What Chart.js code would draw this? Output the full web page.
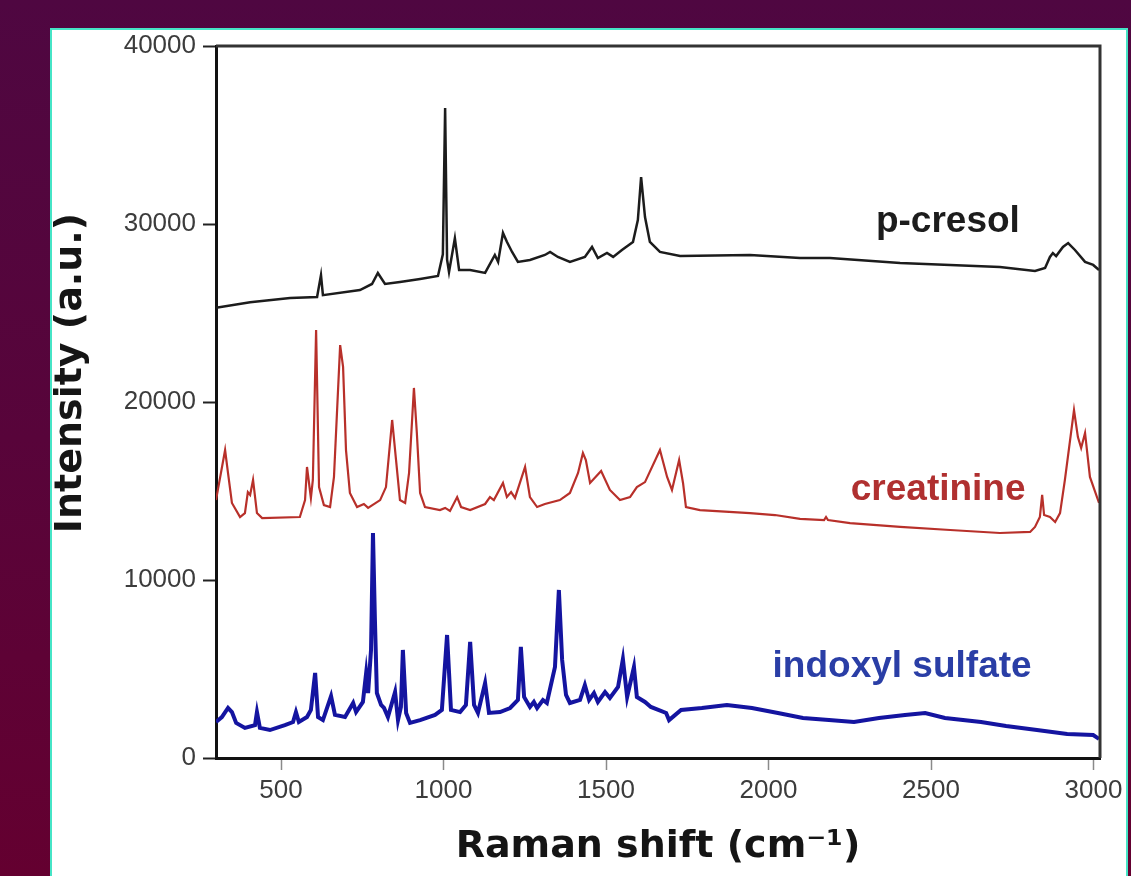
<!DOCTYPE html>
<html>
<head>
<meta charset="utf-8">
<script src="https://cdn.jsdelivr.net/npm/chart.js@4/dist/chart.umd.min.js"></script>
<style>
  html, body { margin: 0; padding: 0; }
  body { width: 1131px; height: 876px; overflow: hidden; position: relative;
    background: linear-gradient(180deg, #4f0741 0%, #58043a 50%, #640030 100%); }
  #panel { position: absolute; left: 50px; top: 28px; width: 1074px; height: 860px;
    background: #fff; border: 2px solid #46e4c6; }
  #chart1 { display: block; }
</style>
</head>
<body>
<div id="panel"><canvas id="chart1" width="1074" height="846"></canvas></div>
<script>
//Axis ticks
const xTicks = [500, 1000, 1500, 2000, 2500, 3000];
const yTicks = [0, 10000, 20000, 30000, 40000];

//p-cresol spectrum (black)
const pcresolX = [300, 405, 528, 611, 623, 629, 743, 780, 798, 820, 866, 928, 983, 998, 1005, 1011, 1017, 1035, 1048, 1082,
    1128, 1158, 1168, 1183, 1195, 1211, 1229, 1266, 1312, 1328, 1352, 1389, 1435, 1457, 1475, 1503, 1522, 1549, 1583, 1598,
    1608, 1620, 1635, 1666, 1728, 1943, 2097, 2189, 2405, 2559, 2712, 2820, 2851, 2866, 2875, 2885, 2906, 2922, 2943, 2974,
    2999, 3017];
const pcresolY = [25300, 25600, 25840, 25900, 27130, 26000, 26290, 26630, 27250, 26630, 26740, 26910, 27080, 28300, 36520, 28000, 27300, 29200, 27420, 27420,
    27250, 28260, 27870, 29500, 29000, 28430, 27870, 27980, 28260, 28430, 28150, 27870, 28150, 28710, 28090, 28370, 28150, 28540, 28990, 30220,
    32640, 30390, 28990, 28430, 28200, 28260, 28090, 28090, 27810, 27700, 27580, 27360, 27530, 28150, 28370, 28200, 28710, 28930, 28540, 27870,
    27700, 27420];

//creatinine spectrum (red)
const creatinineX = [300, 328, 337, 349, 374, 389, 398, 405, 414, 426, 442, 558, 574, 580, 592, 598, 608, 617, 632, 651,
    663, 682, 691, 700, 712, 734, 755, 768, 805, 823, 842, 854, 866, 882, 894, 909, 918, 928, 943, 989,
    1005, 1020, 1042, 1054, 1082, 1128, 1143, 1155, 1183, 1195, 1208, 1220, 1251, 1266, 1288, 1312, 1358, 1389, 1414, 1429,
    1438, 1451, 1485, 1512, 1543, 1574, 1595, 1620, 1666, 1688, 1703, 1725, 1737, 1746, 1789, 1943, 2020, 2097, 2171, 2177,
    2183, 2251, 2405, 2559, 2712, 2805, 2820, 2835, 2842, 2848, 2866, 2882, 2897, 2912, 2940, 2952, 2962, 2974, 2989, 3017];
const creatinineY = [14490, 17300, 16010, 14330, 13540, 13760, 14940, 14780, 15620, 13760, 13480, 13540, 14490, 16350, 14610, 15620, 24050, 15220, 14210, 14100,
    15790, 23200, 21970, 17300, 14890, 14100, 14270, 14050, 14490, 15220, 18990, 16740, 14490, 14330, 16010, 20790, 18260, 14890, 14100, 13930,
    14050, 13880, 14660, 14100, 13930, 14270, 14660, 14490, 15450, 14660, 14940, 14610, 16350, 14660, 14100, 14270, 14490, 14890, 16010, 17130,
    16740, 15450, 16120, 15060, 14490, 14660, 15220, 15500, 17300, 15790, 15060, 16740, 15450, 14100, 13930, 13760, 13650, 13430, 13370, 13540,
    13370, 13200, 12980, 12810, 12640, 12700, 12980, 13540, 14780, 13650, 13540, 13260, 13760, 15620, 19550, 18030, 17420, 18260, 15790, 14330];

//indoxyl sulfate spectrum (blue)
const indoxylX = [300, 318, 337, 349, 362, 389, 420, 426, 435, 466, 512, 537, 546, 555, 580, 592, 605, 614, 629, 654,
    666, 697, 722, 731, 752, 762, 768, 777, 783, 789, 795, 808, 817, 829, 851, 860, 869, 875, 885, 897,
    928, 974, 995, 1011, 1023, 1051, 1069, 1082, 1094, 1106, 1128, 1140, 1174, 1205, 1229, 1238, 1248, 1266, 1278, 1288,
    1306, 1318, 1343, 1355, 1365, 1377, 1389, 1420, 1435, 1448, 1463, 1475, 1497, 1512, 1537, 1552, 1565, 1586, 1595, 1620,
    1638, 1685, 1694, 1731, 1795, 1872, 1949, 2029, 2106, 2186, 2263, 2340, 2420, 2482, 2543, 2654, 2731, 2826, 2919, 2999,
    3017];
const indoxylY = [2020, 2300, 2810, 2580, 1970, 1690, 1850, 2580, 1690, 1570, 1850, 2020, 2580, 2020, 2300, 2700, 4780, 2300, 2130, 3480,
    2420, 2300, 3090, 2580, 3150, 4780, 3650, 6070, 12640, 7750, 3650, 2980, 2810, 2300, 3710, 2130, 2870, 6070, 2530, 1970,
    2130, 2420, 2700, 6910, 2700, 2580, 2980, 6520, 2980, 2530, 4210, 2530, 2580, 2810, 3260, 6240, 3430, 2870, 3150, 2810,
    3260, 3090, 5110, 9440, 5510, 3540, 3090, 3260, 4100, 3260, 3650, 3150, 3710, 3370, 3990, 5560, 3430, 5110, 3430, 3150,
    2870, 2530, 2130, 2700, 2810, 2980, 2810, 2530, 2250, 2130, 2020, 2250, 2420, 2530, 2250, 2020, 1800, 1570, 1350, 1290,
    1070];

//Series names and where their labels sit (data units)
const seriesNames = ['p-cresol', 'creatinine', 'indoxyl sulfate'];
const seriesColors = ['#1c1c1c', '#b8302a', '#1414a0'];
const labelColors = ['#1c1c1c', '#b03030', '#2a3ea6'];
const labelX = [2552, 2522, 2411];
const labelY = [29550, 14490, 4550];

const xTitle = 'Raman shift (cm\u207B\u00B9)';
const yTitle = 'Intensity (a.u.)';

//Function for pairing x and y arrays into point objects
function toPoints(xs, ys) {
    var points = [];
    for (var i = 0; i < xs.length; i++) {
        points.push({x: xs[i], y: ys[i]});
    }
    return points;
}

//Plugin for the series labels, the top/right frame and the y title
const extras = {
    id: 'extras',
    afterDraw(chart) {
        const ctx = chart.ctx;
        const a = chart.chartArea;
        const sx = chart.scales.x, sy = chart.scales.y;
        ctx.save();
        ctx.strokeStyle = '#333';
        ctx.lineWidth = 3;
        ctx.beginPath();
        ctx.moveTo(a.left, a.top);
        ctx.lineTo(a.right, a.top);
        ctx.lineTo(a.right, a.bottom);
        ctx.stroke();

        ctx.font = 'bold 37px "Liberation Sans", Arial, sans-serif';
        ctx.textAlign = 'center';
        ctx.textBaseline = 'alphabetic';
        for (var i = 0; i < seriesNames.length; i++) {
            ctx.fillStyle = labelColors[i];
            ctx.fillText(seriesNames[i], sx.getPixelForValue(labelX[i]), sy.getPixelForValue(labelY[i]));
        }

        ctx.translate(19, 343);
        ctx.rotate(-Math.PI / 2);
        ctx.font = 'bold 38px "DejaVu Sans", sans-serif';
        ctx.fillStyle = '#151515';
        ctx.textBaseline = 'middle';
        ctx.fillText(yTitle, 0, 0);
        ctx.restore();
    }
};

const tickFont = {family: '"Liberation Sans", Arial, sans-serif', size: 26, lineHeight: 1};

const CHART1 = document.getElementById('chart1');
let spectraChart = new Chart(CHART1, {
    type: 'line',
    data: {
        datasets: [
            {label: seriesNames[0], data: toPoints(pcresolX, pcresolY), borderColor: seriesColors[0], borderWidth: 2.5},
            {label: seriesNames[1], data: toPoints(creatinineX, creatinineY), borderColor: seriesColors[1], borderWidth: 2.2},
            {label: seriesNames[2], data: toPoints(indoxylX, indoxylY), borderColor: seriesColors[2], borderWidth: 4}
        ]
    },
    options: {
        responsive: false,
        animation: false,
        devicePixelRatio: 1,
        elements: {point: {radius: 0}, line: {tension: 0}},
        layout: {padding: {top: 16, right: 26, left: 0, bottom: 0}},
        plugins: {legend: {display: false}, tooltip: {enabled: false}},
        scales: {
            x: {
                type: 'linear',
                min: 300,
                max: 3020,
                afterBuildTicks: function (scale) { scale.ticks = xTicks.map(v => ({value: v})); },
                afterFit: function (scale) {
                    scale.height = 118;
                    scale.paddingLeft = 0;
                    scale.paddingRight = 0;
                },
                grid: {drawOnChartArea: false, drawTicks: true, tickLength: 12, tickColor: '#8a8a8a', tickWidth: 1.5},
                border: {display: true, color: '#111', width: 3},
                ticks: {color: '#3c3c3c', padding: 8, font: tickFont, callback: function (v) { return String(v); }},
                title: {display: true, text: xTitle, color: '#151515', padding: {top: 0, bottom: 10},
                    font: {family: '"DejaVu Sans", sans-serif', size: 38, weight: 'bold', lineHeight: 1}}
            },
            y: {
                type: 'linear',
                min: 0,
                max: 40000,
                afterBuildTicks: function (scale) { scale.ticks = yTicks.map(v => ({value: v})); },
                afterFit: function (scale) {
                    scale.width = 164;
                    scale.paddingTop = 0;
                    scale.paddingBottom = 0;
                },
                grid: {drawOnChartArea: false, drawTicks: true, tickLength: 13, tickColor: '#222', tickWidth: 2},
                border: {display: true, color: '#111', width: 3},
                ticks: {color: '#3c3c3c', padding: 7, font: tickFont, callback: function (v) { return String(v); }}
            }
        }
    },
    plugins: [extras]
});
</script>
</body>
</html>
